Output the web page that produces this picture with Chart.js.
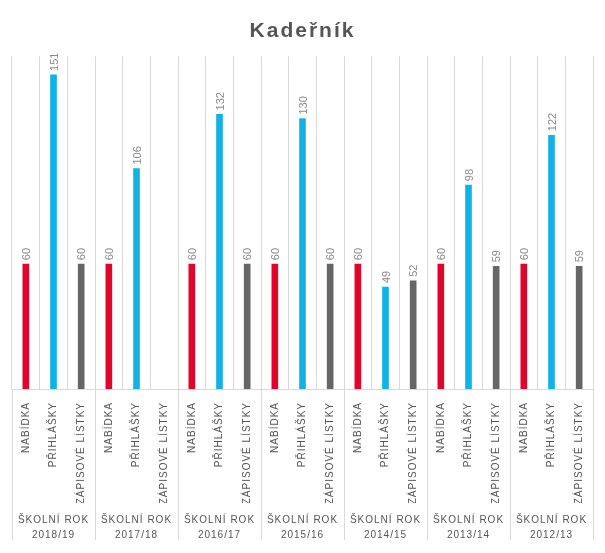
<!DOCTYPE html>
<html>
<head>
<meta charset="utf-8">
<script src="https://cdn.jsdelivr.net/npm/chart.js@4/dist/chart.umd.min.js"></script>
<style>
html,body{margin:0;padding:0;background:#fff;}
canvas{display:block;}
</style>
</head>
<body>
<canvas id="c" width="605" height="553"></canvas>
<script>
const years = ['2018/19','2017/18','2016/17','2015/16','2014/15','2013/14','2012/13'];
const measures = ['NABÍDKA','PŘIHLÁŠKY','ZÁPISOVÉ LÍSTKY'];
const nabidka = [60,60,60,60,60,60,60];
const prihlasky = [151,106,132,130,49,98,122];
const zapisove = [60,null,60,60,52,59,59];
const groupPrefix = 'ŠKOLNÍ ROK';
const measureColors = ['#e0062b','#12b2e6','#666666'];

const labels = [], values = [], colors = [];
years.forEach((y,i)=>{
  [nabidka[i], prihlasky[i], zapisove[i]].forEach((v,j)=>{
    labels.push(measures[j]);
    values.push(v);
    colors.push(measureColors[j]);
  });
});
const groupLabels = years.map(y=>[groupPrefix, y]);

const spacing = {
  id:'spacing',
  beforeUpdate(c){ c.ctx.letterSpacing='1px'; },
  beforeLayout(c){ c.ctx.letterSpacing='1px'; },
  beforeDraw(c){ c.ctx.letterSpacing='1px'; }
};

const extras = {
  id:'extras',
  afterDatasetsDraw(c){
    const ctx=c.ctx;
    const meta=c.getDatasetMeta(0);
    ctx.save();
    ctx.letterSpacing='0px';
    ctx.font='11px "Liberation Sans", Arial, sans-serif';
    ctx.fillStyle='#8a8a8a';
    ctx.textAlign='left';
    ctx.textBaseline='middle';
    meta.data.forEach((bar,i)=>{
      const v=values[i];
      if(v===null||v===undefined) return;
      ctx.save();
      ctx.translate(bar.x+1, bar.y-4);
      ctx.rotate(-Math.PI/2);
      ctx.fillText(String(v),0,0);
      ctx.restore();
    });
    ctx.restore();
  },
  afterDraw(c){
    const ctx=c.ctx, a=c.chartArea;
    const n=years.length, w=(a.right-a.left)/n;
    ctx.save();
    ctx.strokeStyle='#d9d9d9';
    ctx.lineWidth=1;
    for(let i=0;i<=n;i++){
      const x=Math.round(a.left+i*w)+0.5;
      ctx.beginPath();
      ctx.moveTo(x,a.bottom);
      ctx.lineTo(x,540);
      ctx.stroke();
    }
    ctx.restore();
  }
};

const titlePlugin = {
  id:'titleSpacing',
  beforeDraw(c){ c.ctx.letterSpacing='2px'; },
  afterDraw(){}
};

new Chart(document.getElementById('c'),{
  type:'bar',
  data:{labels:labels,datasets:[{data:values,backgroundColor:colors,barThickness:6}]},
  options:{
    responsive:false,
    animation:false,
    layout:{padding:{left:12,right:12,top:0,bottom:13}},
    plugins:{
      legend:{display:false},
      tooltip:{enabled:false},
      title:{display:true,text:'Kadeřník',color:'#555555',
        font:{family:'"Liberation Sans", Arial, sans-serif',size:21,weight:'bold'},
        padding:{top:19,bottom:12}}
    },
    scales:{
      y:{display:false,min:0,max:160},
      x:{
        grid:{color:'#d9d9d9',drawTicks:false,offset:true},
        border:{color:'#d9d9d9'},
        ticks:{autoSkip:false,maxRotation:90,minRotation:90,padding:13,color:'#555555',
          font:{family:'"Liberation Sans", Arial, sans-serif',size:10}},
        afterFit(s){ s.height=114; }
      },
      x2:{
        type:'category',
        labels:groupLabels,
        position:'bottom',
        offset:true,
        grid:{display:false},
        border:{display:false},
        ticks:{padding:2,color:'#555555',maxRotation:0,minRotation:0,
          font:{family:'"Liberation Sans", Arial, sans-serif',size:10,lineHeight:1.5}},
        afterFit(s){ s.height=37; }
      }
    }
  },
  plugins:[spacing,extras,{
    id:'titleLS',
    beforeDraw(c){
      // title is drawn as a layout box; wrap its draw to set wider spacing
      const t=c.titleBlock;
      if(t && !t._wrapped){
        const orig=t.draw.bind(t);
        t.draw=function(){ const ctx=c.ctx; const prev=ctx.letterSpacing; ctx.letterSpacing='2px'; orig(); ctx.letterSpacing=prev; };
        t._wrapped=true;
      }
    }
  }]
});
</script>
</body>
</html>
